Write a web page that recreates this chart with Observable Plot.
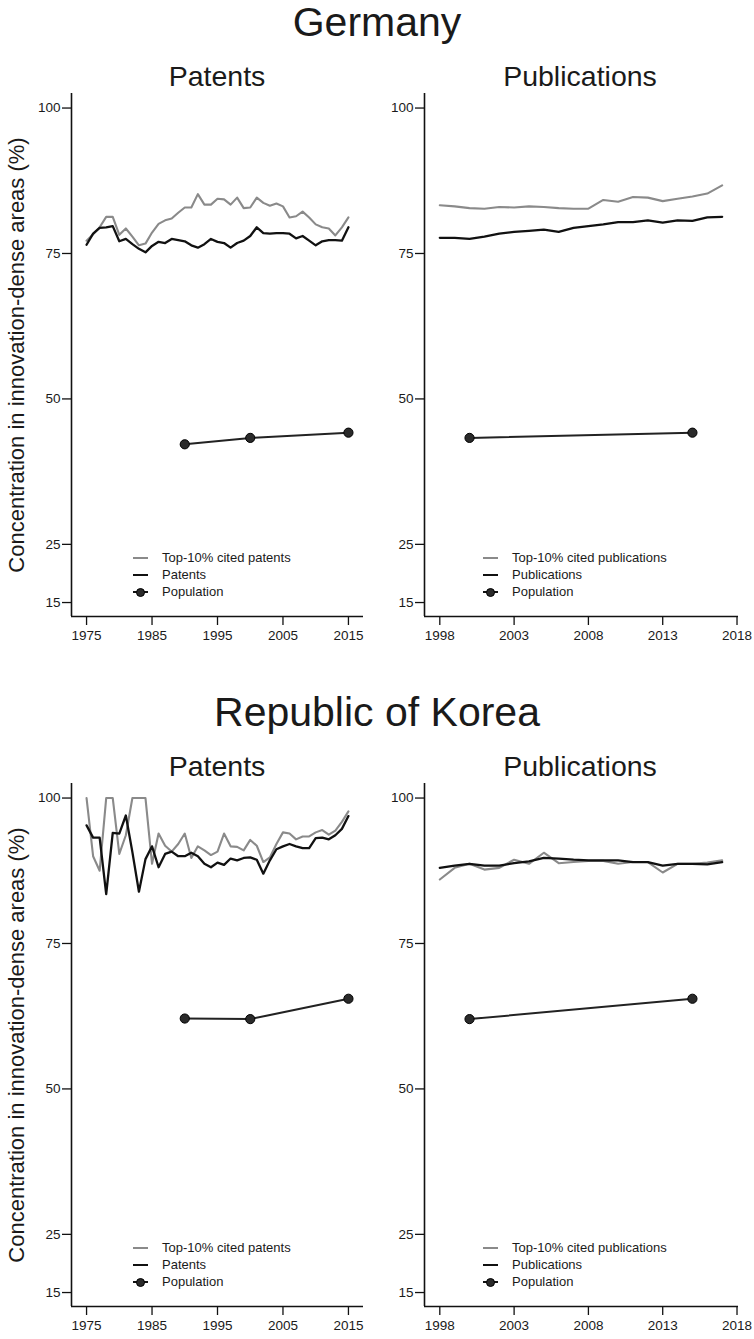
<!DOCTYPE html>
<html><head><meta charset="utf-8">
<script src="https://cdn.jsdelivr.net/npm/d3@7"></script>
<script src="https://cdn.jsdelivr.net/npm/@observablehq/plot@0.6"></script>
<style>
body{margin:0;background:#fff;font-family:"Liberation Sans",Arial,sans-serif;}
#root{position:relative;width:754px;height:1339px;overflow:hidden;background:#fff;}
.t{position:absolute;white-space:nowrap;color:#1a1a1a;}
.p{position:absolute;}
#root svg{font-family:"Liberation Sans",Arial,sans-serif !important;font-size:13.5px !important;}
#root svg text{font-size:13.5px !important;fill:#1a1a1a;}
</style></head><body><div id="root"></div>
<script>
// ---------- data ----------
const sections = ["Germany", "Republic of Korea"];
const panelTitles = ["Patents", "Publications"];
const yLabel = "Concentration in innovation-dense areas (%)";
const yTicks = [15, 25, 50, 75, 100];
const patentTicks = [1975, 1985, 1995, 2005, 2015];
const pubTicks = [1998, 2003, 2008, 2013, 2018];
const patentYears = d3.range(1975, 2016);
const pubYears = d3.range(1998, 2018);
const legendPat = ["Top-10% cited patents", "Patents", "Population"];
const legendPub = ["Top-10% cited publications", "Publications", "Population"];

// Germany
const deTopPat = [77.2,78.3,79.5,81.3,81.3,78.2,79.3,77.9,76.4,76.7,78.6,80.1,80.7,81.0,82.0,82.9,82.9,85.2,83.4,83.4,84.4,84.3,83.4,84.6,82.8,82.9,84.6,83.7,83.2,83.6,83.1,81.2,81.4,82.2,81.2,80.0,79.5,79.3,78.1,79.5,81.2];
const deAllPat = [76.5,78.4,79.4,79.5,79.7,77.1,77.5,76.6,75.8,75.2,76.3,77.0,76.8,77.5,77.3,77.1,76.4,76.0,76.6,77.5,77.0,76.8,76.0,76.8,77.2,78.0,79.5,78.5,78.4,78.5,78.5,78.4,77.6,78.0,77.2,76.4,77.1,77.3,77.3,77.2,79.5];
const deTopPub = [83.3,83.1,82.8,82.7,83.0,82.9,83.1,83.0,82.8,82.7,82.7,84.2,83.9,84.7,84.6,84.0,84.4,84.8,85.3,86.7];
const deAllPub = [77.7,77.7,77.5,77.9,78.4,78.7,78.9,79.1,78.7,79.4,79.7,80.0,80.4,80.4,80.7,80.3,80.7,80.6,81.2,81.3];
const popYearsPat = [1990, 2000, 2015];
const popYearsPub = [2000, 2015];
const dePopPat = [42.2, 43.3, 44.2];
const dePopPub = [43.3, 44.2];

// Republic of Korea
const krTopPat = [100,90.0,87.5,100,100,90.4,93.6,100,100,100,88.7,93.9,91.8,90.8,92.1,93.9,89.7,91.7,91.0,90.2,90.8,93.9,91.7,91.6,91.0,92.8,91.8,89.0,89.8,92.1,94.1,93.9,92.9,93.4,93.4,94.1,94.5,93.7,94.4,95.9,97.7];
const krAllPat = [95.3,93.2,93.2,83.5,94.0,93.9,97.0,90.7,83.9,89.5,91.7,88.1,90.4,90.8,90.0,90.0,90.6,90.0,88.7,88.1,88.9,88.5,89.6,89.3,89.7,89.8,89.4,87.0,89.3,91.2,91.7,92.1,91.7,91.4,91.4,93.1,93.2,92.9,93.6,94.7,96.9];
const krTopPub = [86.0,88.0,88.7,87.7,88.0,89.4,88.7,90.6,88.8,89.0,89.2,89.2,88.7,89.0,89.0,87.2,88.7,88.7,88.9,89.3];
const krAllPub = [88.0,88.4,88.7,88.4,88.4,88.8,89.1,89.7,89.6,89.4,89.3,89.3,89.3,89.0,89.0,88.4,88.7,88.7,88.6,89.0];
const krPopPat = [62.1, 62.0, 65.5];
const krPopPub = [62.0, 65.5];

// ---------- layout ----------
const root = document.getElementById("root");
const FONT = '"Liberation Sans", Arial, sans-serif';
const SEC = 690;           // vertical offset of second section
const yDomain = [12.6, 102.5];

function addText(txt, x, baseline, size, anchor = "middle") {
  const d = document.createElement("div");
  d.className = "t";
  d.textContent = txt;
  d.style.fontSize = size + "px";
  d.style.lineHeight = size + "px";
  d.style.top = (baseline - 0.8465 * size) + "px";
  if (anchor === "middle") { d.style.left = x + "px"; d.style.transform = "translateX(-50%)"; }
  else d.style.left = x + "px";
  root.appendChild(d);
  return d;
}

function addYLabel(cy) {
  const d = document.createElement("div");
  d.className = "t";
  d.textContent = yLabel;
  d.style.fontSize = "22px";
  d.style.lineHeight = "24px";
  d.style.left = "17px";
  d.style.top = cy + "px";
  d.style.transform = "translate(-50%,-50%) rotate(-90deg)";
  root.appendChild(d);
}

function addLegend(x0, yTop, labels) {
  const types = ["gray", "black", "pop"];
  labels.forEach((lab, i) => {
    const cy = yTop + i * 17;
    const ln = document.createElement("div");
    ln.className = "p";
    Object.assign(ln.style, {left: x0 + "px", top: (cy - 1) + "px", width: "15px", height: "2.2px",
      background: types[i] === "gray" ? "#8a8a8a" : "#111"});
    root.appendChild(ln);
    if (types[i] === "pop") {
      const dt = document.createElement("div");
      dt.className = "p";
      Object.assign(dt.style, {left: (x0 + 3) + "px", top: (cy - 4.5) + "px", width: "9px", height: "9px",
        borderRadius: "50%", background: "#2a2a2a", border: "0.8px solid #000", boxSizing: "border-box"});
      root.appendChild(dt);
    }
    const tx = document.createElement("div");
    tx.className = "t";
    tx.textContent = lab;
    Object.assign(tx.style, {left: (x0 + 29) + "px", top: (cy - 8) + "px", fontSize: "13px", lineHeight: "16px"});
    root.appendChild(tx);
  });
}

function panel({left, top, marginLeft, marginRight, xDomain, xTicks, years, topS, allS, popYears, popS}) {
  const topData = years.map((y, i) => ({year: y, v: topS[i]}));
  const allData = years.map((y, i) => ({year: y, v: allS[i]}));
  const popData = popYears.map((y, i) => ({year: y, v: popS[i]}));
  const chart = Plot.plot({
    width: 377, height: 571,
    marginTop: 8, marginBottom: 40, marginLeft, marginRight,
    style: {background: "transparent", overflow: "visible", fontFamily: FONT, fontSize: "13.5px", color: "#111"},
    x: {domain: xDomain, label: null},
    y: {domain: yDomain, label: null},
    marks: [
      Plot.ruleX([xDomain[0]], {stroke: "#111", strokeWidth: 1.6}),
      Plot.ruleY([yDomain[0]], {stroke: "#111", strokeWidth: 1.6}),
      Plot.axisY({ticks: yTicks, tickSize: 9, tickPadding: 2, label: null, strokeWidth: 1.3, tickFormat: "d", fontSize: 13.5}),
      Plot.axisX({ticks: xTicks, tickSize: 9, tickPadding: 5, label: null, strokeWidth: 1.3, tickFormat: "d", fontSize: 13.5}),
      Plot.line(topData, {x: "year", y: "v", stroke: "#8a8a8a", strokeWidth: 2.1}),
      Plot.line(allData, {x: "year", y: "v", stroke: "#111", strokeWidth: 2.3}),
      Plot.line(popData, {x: "year", y: "v", stroke: "#222", strokeWidth: 2}),
      Plot.dot(popData, {x: "year", y: "v", r: 4.6, fill: "#2a2a2a", stroke: "#000", strokeWidth: 1})
    ]
  });
  chart.style.position = "absolute";
  chart.style.left = left + "px";
  chart.style.top = top + "px";
  root.appendChild(chart);
}

const patCfg = {marginLeft: 71, marginRight: 14, xDomain: [1972.7, 2017.3], xTicks: patentTicks, years: patentYears, popYears: popYearsPat};
const pubCfg = {marginLeft: 47, marginRight: 16, xDomain: [1996.97, 2018.1], xTicks: pubTicks, years: pubYears, popYears: popYearsPub};

const seriesBySection = [
  {pat: [deTopPat, deAllPat, dePopPat], pub: [deTopPub, deAllPub, dePopPub]},
  {pat: [krTopPat, krAllPat, krPopPat], pub: [krTopPub, krAllPub, krPopPub]}
];

sections.forEach((name, s) => {
  const off = s * SEC;
  addText(name, 377, 37 + off, 41);
  addText(panelTitles[0], 217, 86 + off, 28.5);
  addText(panelTitles[1], 580, 86 + off, 28.5);
  addYLabel(355 + off);
  const S = seriesBySection[s];
  panel({...patCfg, left: 0, top: 85 + off, topS: S.pat[0], allS: S.pat[1], popS: S.pat[2]});
  panel({...pubCfg, left: 377, top: 85 + off, topS: S.pub[0], allS: S.pub[1], popS: S.pub[2]});
  addLegend(133, 558 + off, legendPat);
  addLegend(483, 558 + off, legendPub);
});
</script></body></html>
